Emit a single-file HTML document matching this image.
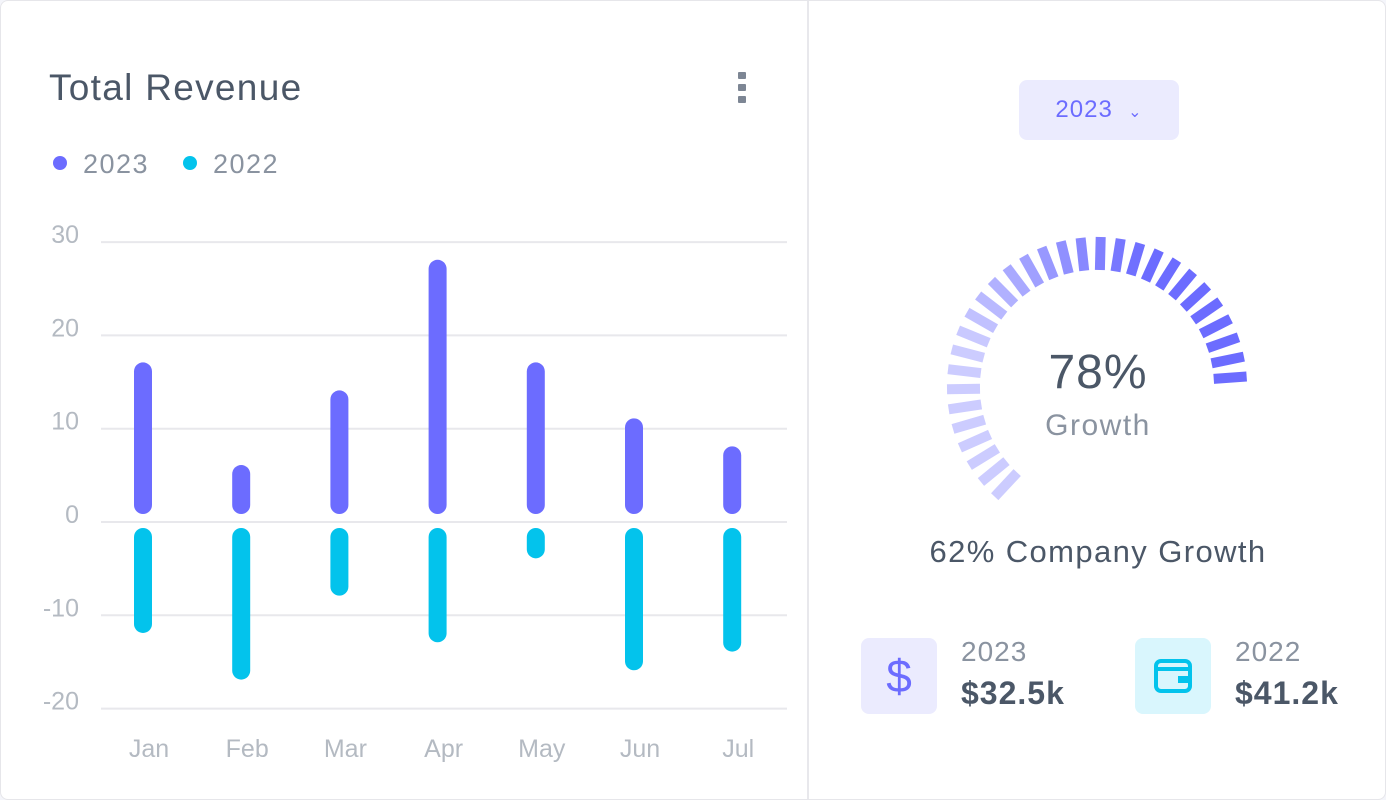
<!DOCTYPE html>
<html><head><meta charset="utf-8">
<style>
body{margin:0;background:#f4f5fa;font-family:"Liberation Sans",sans-serif;}
.card{position:absolute;left:0;top:0;width:1384px;height:798px;background:#fff;border:1px solid #e6e6ea;border-radius:8px;overflow:hidden}
.t{position:absolute;white-space:nowrap}
</style></head><body>
<div class="card">
<div class="t" style="left:48px;top:66px;font-size:37px;letter-spacing:1.3px;color:#4b5767">Total Revenue</div>
<div style="position:absolute;left:737px;top:71px;width:8px;">
<div style="width:8px;height:7px;background:#7d8694;margin-bottom:5px;border-radius:1px"></div><div style="width:8px;height:7px;background:#7d8694;margin-bottom:5px;border-radius:1px"></div><div style="width:8px;height:7px;background:#7d8694;border-radius:1px"></div></div>
<div class="t" style="left:52px;top:148px;font-size:27px;letter-spacing:1.5px;color:#8a93a0"><span style="display:inline-block;width:14px;height:14px;border-radius:50%;background:#6c6cff;margin-right:16px;vertical-align:3px"></span>2023</div>
<div class="t" style="left:182px;top:148px;font-size:27px;letter-spacing:1.5px;color:#8a93a0"><span style="display:inline-block;width:14px;height:14px;border-radius:50%;background:#03c3ec;margin-right:16px;vertical-align:3px"></span>2022</div>
<svg id="chart" width="806" height="798" style="position:absolute;left:0;top:0"></svg>
<div style="position:absolute;left:806px;top:0;width:2px;height:798px;background:#e8e8ec"></div>
<div style="position:absolute;left:1018px;top:79px;width:160px;height:60px;background:#ebebfe;border-radius:8px;color:#6c6cff;font-size:24px;letter-spacing:1px;line-height:60px;text-align:center">2023 &nbsp;<span style="font-size:16px">&#8964;</span></div>
<svg id="gauge" width="400" height="320" style="position:absolute;left:897px;top:220px"></svg>
<div class="t" style="left:997px;top:344px;width:200px;text-align:center;font-size:48px;letter-spacing:1px;color:#4b5767">78%</div>
<div class="t" style="left:997px;top:408px;width:200px;text-align:center;font-size:30px;letter-spacing:1.5px;color:#8a93a0">Growth</div>
<div class="t" style="left:897px;top:533px;width:400px;text-align:center;font-size:31px;letter-spacing:1.4px;color:#4b5767">62% Company Growth</div>
<div style="position:absolute;left:860px;top:637px;width:76px;height:76px;background:#ebebfe;border-radius:8px;color:#6c6cff;font-size:46px;line-height:76px;text-align:center">$</div>
<div class="t" style="left:960px;top:635px;font-size:28px;letter-spacing:1px;color:#8a93a0">2023</div>
<div class="t" style="left:960px;top:674px;font-size:32px;letter-spacing:1px;color:#4b5767;font-weight:bold">$32.5k</div>
<div style="position:absolute;left:1134px;top:637px;width:76px;height:76px;background:#d9f6fd;border-radius:8px"><svg width="76" height="76"><rect x="21" y="23" width="34" height="30" rx="5" fill="none" stroke="#03c3ec" stroke-width="4"/><line x1="23" y1="31" x2="53" y2="31" stroke="#03c3ec" stroke-width="4"/><rect x="43" y="38" width="12" height="7" fill="#03c3ec"/></svg></div>
<div class="t" style="left:1234px;top:635px;font-size:28px;letter-spacing:1px;color:#8a93a0">2022</div>
<div class="t" style="left:1234px;top:674px;font-size:32px;letter-spacing:1px;color:#4b5767;font-weight:bold">$41.2k</div>
</div>
<script>
const months=['Jan','Feb','Mar','Apr','May','Jun','Jul'];
const series2023=[17,6,14,28,17,11,8];
const series2022=[-12,-17,-8,-13,-4,-16,-14];
const yTicks=[30,20,10,0,-10,-20];
const NS='http://www.w3.org/2000/svg';
const svg=document.getElementById('chart');
const y=v=>520-(v)*9.33;
const x=i=>142+i*98.2;
function mk(t,a){const e=document.createElementNS(NS,t);for(const k in a)e.setAttribute(k,a[k]);svg.appendChild(e);return e;}
yTicks.forEach(v=>{
 const l=mk('line',{x1:100,x2:786,y1:y(v)+1,y2:y(v)+1,stroke:'#e8e8ec','stroke-width':2});
 
 
 const t=mk('text',{x:78,y:y(v)+2,'text-anchor':'end','font-size':25,fill:'#b4bac2'});
 t.textContent=v;
 
 
});
months.forEach((m,i)=>{
 const t=mk('text',{x:x(i)+6,y:756,'text-anchor':'middle','font-size':25,fill:'#b4bac2'});
 t.textContent=m;
 
 
 const a=series2023[i],b=series2022[i];
 const top=y(a),bot=513;
 const r1=mk('rect',{x:x(i)-9,y:top,width:18,height:Math.max(bot-top,18),rx:9,fill:'#6c6cff'});
 
 
 const by=y(b);
 const r2=mk('rect',{x:x(i)-9,y:527,width:18,height:Math.max(by-527,18),rx:9,fill:'#03c3ec'});
 
 
});
const g=document.getElementById('gauge');
const gaugeValue=78;
const cx=199,cy=166,ro=150,ri=117,n=30,a0=-137,a1=86;
for(let k=0;k<n;k++){
 const ang=(a0+(a1-a0)*k/(n-1))*Math.PI/180;
 const s=Math.sin(ang),c=-Math.cos(ang);
 const frac=k/(n-1);
 const op=frac<0.3?0.35:Math.min(1,0.35+(frac-0.3)*1.6);
 const l=document.createElementNS(NS,'line');
 l.setAttribute('x1',cx+ri*s);l.setAttribute('y1',cy+ri*c);
 l.setAttribute('x2',cx+ro*s);l.setAttribute('y2',cy+ro*c);
 l.setAttribute('stroke','#6c6cff');l.setAttribute('stroke-width',10);
 l.setAttribute('stroke-opacity',op);
 
 
 g.appendChild(l);
}
</script>
</body></html>
